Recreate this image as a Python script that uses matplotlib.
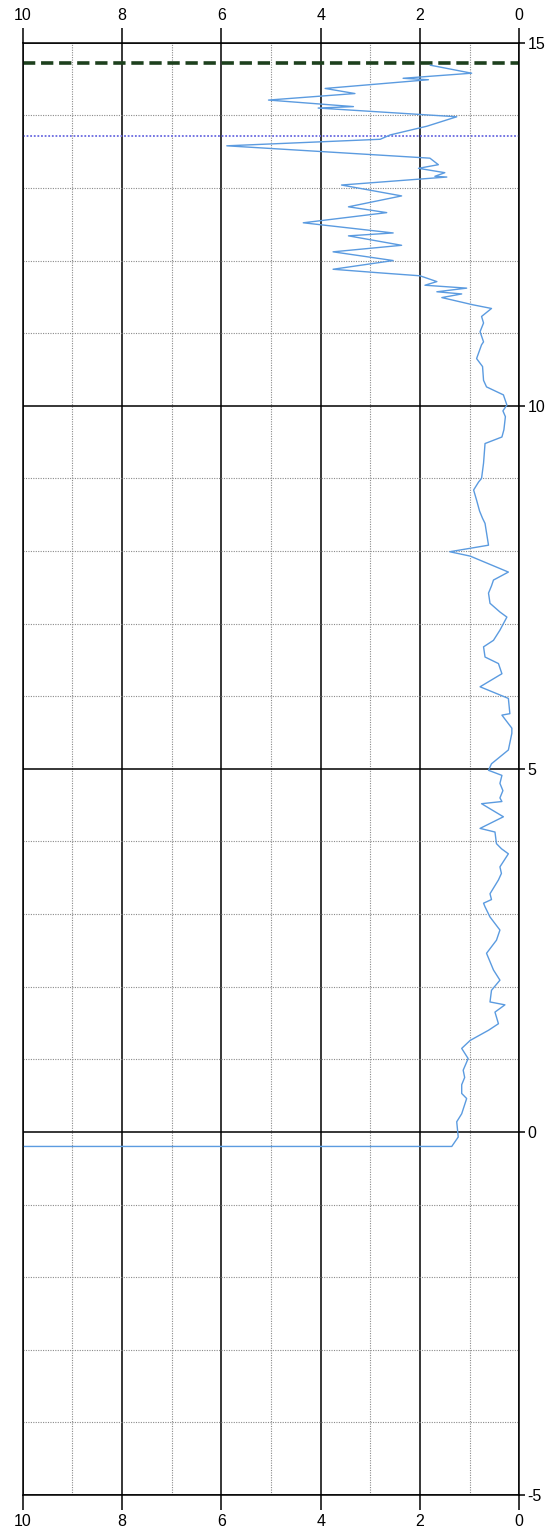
import matplotlib
matplotlib.use("Agg")
import matplotlib.pyplot as plt
from matplotlib.ticker import MultipleLocator

# depth (y) and value (x) of the measured trace
depth = [14.69, 14.58, 14.51, 14.49, 14.37, 14.30, 14.21, 14.12, 14.10, 13.98,
         13.85, 13.73, 13.67, 13.58, 13.44, 13.41, 13.32, 13.27, 13.21, 13.16,
         13.15, 13.04, 12.89, 12.74, 12.66, 12.52, 12.38, 12.34, 12.21, 12.12,
         12.00, 11.88, 11.83, 11.79, 11.71, 11.66, 11.62, 11.57, 11.54, 11.49,
         11.39, 11.34, 11.23, 11.14, 11.02, 10.88, 10.84, 10.65, 10.54, 10.35,
         10.26, 10.15, 10.01, 9.93, 9.85, 9.67, 9.57, 9.48, 9.21, 9.00,
         8.95, 8.84, 8.70, 8.55, 8.45, 8.38, 8.25, 8.08, 7.99, 7.93,
         7.71, 7.60, 7.52, 7.42, 7.28, 7.16, 7.09, 6.91, 6.77, 6.68,
         6.54, 6.45, 6.31, 6.13, 5.97, 5.76, 5.74, 5.56, 5.49, 5.26,
         5.07, 4.98, 4.91, 4.80, 4.70, 4.60, 4.55, 4.52, 4.34, 4.18,
         4.13, 3.97, 3.90, 3.83, 3.65, 3.56, 3.47, 3.28, 3.20, 3.15,
         3.10, 2.96, 2.78, 2.64, 2.46, 2.23, 2.09, 1.95, 1.79, 1.75,
         1.65, 1.49, 1.40, 1.26, 1.15, 1.01, 0.85, 0.75, 0.65, 0.53,
         0.46, 0.25, 0.14, -0.07, -0.20, -0.20]
value = [1.79, 0.96, 2.34, 1.83, 3.91, 3.31, 5.05, 3.34, 4.05, 1.26,
         1.86, 2.60, 2.80, 5.89, 2.54, 1.80, 1.63, 2.03, 1.50, 1.70,
         1.46, 3.58, 2.37, 3.44, 2.67, 4.35, 2.54, 3.44, 2.37, 3.75,
         2.54, 3.75, 2.80, 2.00, 1.66, 1.90, 1.06, 1.66, 1.16, 1.56,
         0.93, 0.56, 0.76, 0.72, 0.79, 0.72, 0.76, 0.86, 0.74, 0.72,
         0.66, 0.32, 0.25, 0.33, 0.28, 0.31, 0.35, 0.69, 0.72, 0.76,
         0.82, 0.92, 0.86, 0.80, 0.74, 0.69, 0.66, 0.62, 1.40, 0.99,
         0.22, 0.52, 0.56, 0.62, 0.59, 0.39, 0.25, 0.39, 0.52, 0.72,
         0.69, 0.42, 0.35, 0.79, 0.22, 0.19, 0.35, 0.15, 0.15, 0.22,
         0.56, 0.62, 0.35, 0.39, 0.33, 0.39, 0.35, 0.76, 0.32, 0.79,
         0.49, 0.46, 0.36, 0.22, 0.39, 0.36, 0.42, 0.59, 0.56, 0.72,
         0.69, 0.59, 0.39, 0.46, 0.66, 0.52, 0.39, 0.56, 0.59, 0.29,
         0.49, 0.42, 0.62, 0.99, 1.16, 1.03, 1.13, 1.10, 1.16, 1.16,
         1.06, 1.16, 1.26, 1.23, 1.36, 10.0]

green_level = 14.72
purple_level = 13.72

x_major = [0, 2, 4, 6, 8, 10]
y_major = [-5, 0, 5, 10, 15]
x_labels = ["0", "2", "4", "6", "8", "10"]
y_labels = ["-5", "0", "5", "10", "15"]

plt.rcParams['font.family'] = ['Liberation Sans', 'DejaVu Sans']

W, H = 557, 1535
fig = plt.figure(figsize=(W / 100, H / 100), dpi=100)
left, right, top, bottom = 22.7, 519.3, 42.7, 1495.0
ax = fig.add_axes([left / W, 1 - bottom / H, (right - left) / W, (bottom - top) / H])

ax.set_xlim(10, 0)
ax.set_ylim(-5, 15)

ax.xaxis.set_minor_locator(MultipleLocator(1))
ax.yaxis.set_minor_locator(MultipleLocator(1))
ax.set_xticks(x_major)
ax.set_xticklabels(x_labels)
ax.set_yticks(y_major)
ax.set_yticklabels(y_labels)

ax.grid(which='minor', color='#8a8a8a', linestyle=(0, (1, 1.2)), linewidth=0.8)
ax.grid(which='major', color='black', linestyle='-', linewidth=1.1)
ax.set_axisbelow(True)

ax.tick_params(axis='x', which='major', top=True, bottom=True, labeltop=True, labelbottom=True,
               length=11, width=1.1, pad=3, labelsize=11.5, direction='out')
ax.tick_params(axis='y', which='major', left=False, right=True, labelleft=False, labelright=True,
               length=4, width=1.1, pad=2, labelsize=11.5, direction='out')
ax.tick_params(which='minor', length=0)

for s in ax.spines.values():
    s.set_color('black')
    s.set_linewidth(1.1)

ax.axhline(green_level, color='#1d401d', linewidth=2.6, linestyle=(0, (3.4, 1.6)))
ax.axhline(purple_level, color='#6a6ae0', linewidth=1.3, linestyle=(0, (1, 1)))

ax.plot(value, depth, color='#5b9be0', linewidth=1.0, clip_on=True)

fig.savefig('out.png', dpi=100)
